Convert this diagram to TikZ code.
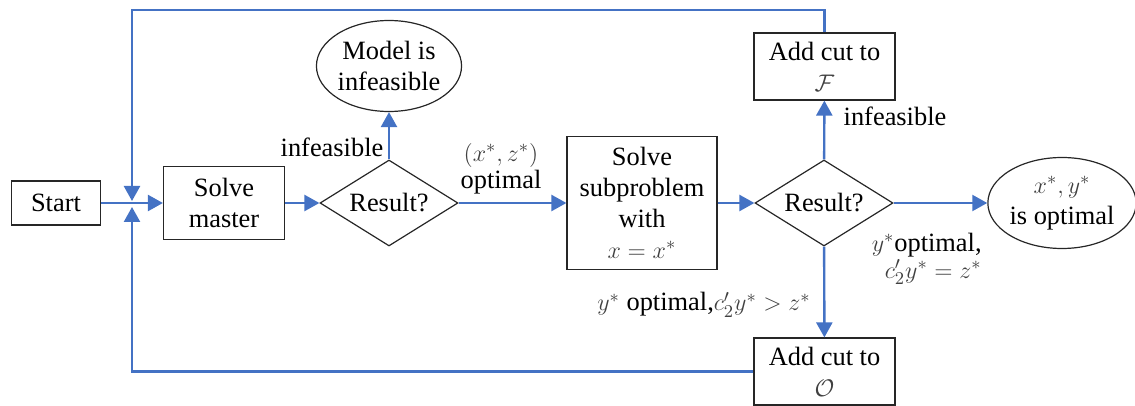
\documentclass[tikz,border=0pt]{standalone}
\usepackage{fontspec}
\setmainfont{Liberation Serif}
\newfontfamily\tnr{Liberation Serif}
\usetikzlibrary{arrows.meta,shapes.geometric}
\definecolor{flowblue}{HTML}{4472C4}
\definecolor{mathgray}{HTML}{404040}
\newcommand{\gm}[1]{\textcolor{mathgray}{$#1$}}
\tikzset{
  outline/.style={draw=black!85, line width=0.6pt, align=center, inner sep=0pt, font=\tnr\fontsize{13.2}{15.5}\selectfont},
  box/.style={outline, rectangle},
  decision/.style={outline, diamond, aspect=1.6, minimum width=69pt, minimum height=43pt},
  term/.style={outline, ellipse, minimum width=72.5pt, minimum height=45.5pt},
  flow/.style={draw=flowblue, line width=1.2pt, -{Triangle[length=7.5pt,width=8pt]}},
  lbl/.style={inner sep=0pt, align=center, font=\tnr\fontsize{13.2}{13.5}\selectfont}
}
\begin{document}
\begin{tikzpicture}[x=0.5pt,y=-0.5pt]
\useasboundingbox (0,0) rectangle (1135,406);
% shapes
\node[box, minimum width=44.5pt, minimum height=22pt] (start) at (56,203) {Start};
\node[box, minimum width=60.5pt, minimum height=36.5pt] (master) at (224,203) {Solve\\master};
\node[decision] (res1) at (389,203) {Result?};
\node[term] (infeas) at (389,66) {Model is\\infeasible};
\node[box, minimum width=75pt, minimum height=66.5pt] (sub) at (642,203) {Solve\\subproblem\\with\\\gm{x = x^*}};
\node[decision] (res2) at (824,203) {Result?};
\node[box, minimum width=70.5pt, minimum height=33.5pt] (addF) at (824.5,66.5) {Add cut to\\\gm{\mathcal{F}}};
\node[box, minimum width=70.5pt, minimum height=33.5pt] (addO) at (824.5,371.5) {Add cut to\\\gm{\mathcal{O}}};
\node[term] (opt) at (1062,203) {\gm{x^*, y^*}\\is optimal};
% labels
\node[lbl, anchor=base] (lblinf1) at (332,157) {infeasible};
\node[lbl] (lblopt1) at (501,169) {\gm{(x^*, z^*)}\\optimal};
\node[lbl, anchor=base] (lblinf2) at (895,126) {infeasible};
\node[lbl, align=right, anchor=east] (lblopt2) at (982,259) {\gm{y^*}optimal,\\\gm{c_2' y^* = z^*}};
\node[lbl, anchor=base] (lblcut) at (704,311) {\gm{y^*} optimal,\gm{c_2' y^* > z^*}};
% connectors
\coordinate (ctop) at (132,10);
\coordinate (jtop) at (132,201);
\coordinate (jbot) at (132,207);
\draw[flow] (start) -- (master);
\draw[flow] (master) -- (res1);
\draw[flow] (res1) -- (infeas);
\draw[flow] (res1) -- (sub);
\draw[flow] (sub) -- (res2);
\draw[flow] (res2) -- (addF);
\draw[flow] (res2) -- (opt);
\draw[flow] (res2) -- (addO);
\draw[flow] (addF.north) -- (addF.north |- ctop) -- (ctop) -- (jtop);
\draw[flow] (addO.west) -| (jbot);
\end{tikzpicture}
\end{document}
